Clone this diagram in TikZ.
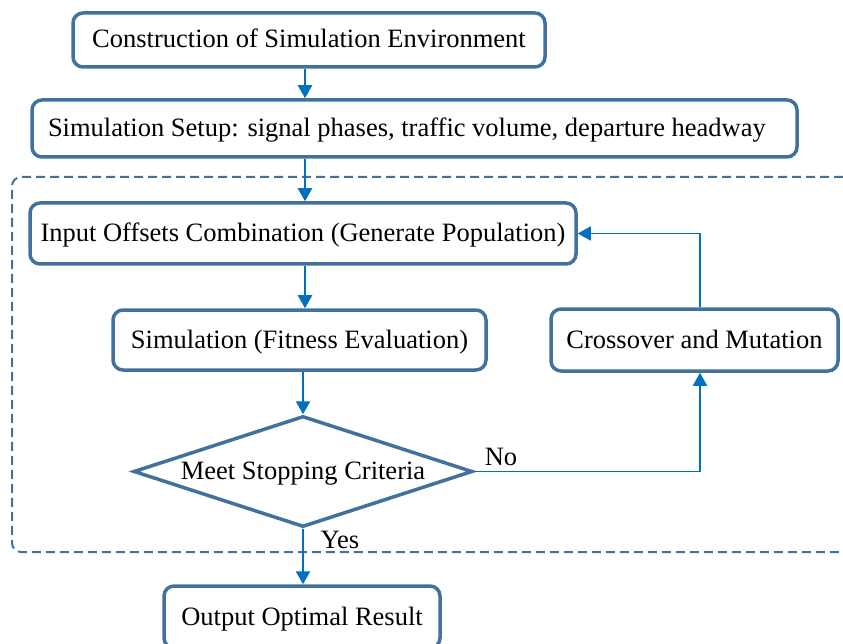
\documentclass[tikz,border=0pt]{standalone}
\usepackage{fontspec}
\setmainfont{Liberation Serif}
\usetikzlibrary{arrows.meta,shapes.geometric}
\definecolor{boxblue}{HTML}{41719C}
\definecolor{arrblue}{HTML}{0070C0}
\begin{document}
\begin{tikzpicture}[x=1pt,y=-1pt,
  txt/.style={font=\fontsize{26.5}{30}\selectfont, inner sep=0pt, text height=18pt, text depth=2pt},
  box/.style={txt, draw=boxblue, line width=3.5pt, rounded corners=10pt, fill=white, align=center},
  dia/.style={diamond, draw=boxblue, line width=3.5pt, fill=white, inner sep=0pt},
  lbl/.style={txt},
  arr/.style={draw=arrblue, line width=2.4pt, -{Triangle[width=14pt,length=13pt]}},
  arrthin/.style={draw=arrblue, line width=1.6pt, -{Triangle[width=14pt,length=13pt]}},
  region/.style={draw=boxblue, line width=2pt, dash pattern=on 9pt off 5pt, rounded corners=9pt}]
\useasboundingbox (0,0) rectangle (843,644);
\coordinate (col) at (305,0);
% dashed region
\draw[region] (843,177) -- (12,177) -- (12,552) -- (843,552);
% nodes
\node[box, minimum width=472pt, minimum height=54pt] (c) at (309,40) {Construction of Simulation Environment};
\node[box, minimum width=765pt, minimum height=57pt] (s) at (414.5,128.5) {\makebox[733pt][l]{Simulation Setup: signal phases, traffic volume, departure headway}};
\node[box, minimum width=546pt, minimum height=61pt] (io) at (303,233.5) {Input Offsets Combination (Generate Population)};
\node[box, minimum width=373pt, minimum height=60pt] (sim) at (299.5,340) {Simulation (Fitness Evaluation)};
\node[box, minimum width=287pt, minimum height=62pt] (cm) at (694.5,340) {Crossover and Mutation};
\node[dia, minimum width=339pt, minimum height=111pt,
  label={[lbl]center:Meet Stopping Criteria}] (d) at (303,471.5) {};
\node[box, minimum width=276pt, minimum height=62pt] (out) at (302,617) {Output Optimal Result};
% arrows
\draw[arr] (c.south -| col) -- (s.north -| col);
\draw[arr] (s.south -| col) -- (io.north -| col);
\draw[arr] (io.south -| col) -- (sim.north -| col);
\draw[arr] (sim.south -| d.north) -- (d.north);
\draw[arr] (d.south) -- (out.north -| d.south);
\draw[arrthin] (d.east) -| ([xshift=5.5pt]cm.south);
\draw[arrthin] ([xshift=5.5pt]cm.north) |- (io.east);
% labels
\node[lbl] (no) at (501,457) {No};
\node[lbl] (yes) at (340,540) {Yes};
\end{tikzpicture}
\end{document}
